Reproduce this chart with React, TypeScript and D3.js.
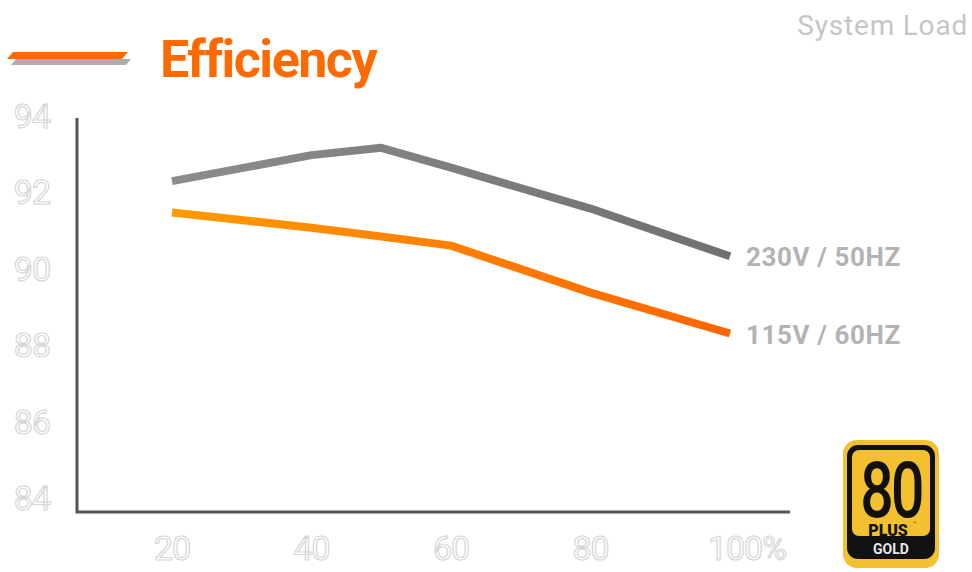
import React from "react";
import * as d3 from "d3";

const loads = [20, 40, 50, 60, 80, 100];
const eff230 = [92.27, 92.95, 93.14, 92.62, 91.55, 90.3];
const eff115 = [91.45, 91.05, 90.82, 90.58, 89.35, 88.28];
const xTicks = [20, 40, 60, 80, 100];
const xTickLabels = ["20", "40", "60", "80", "100%"];
const yTicks = [84, 86, 88, 90, 92, 94];
const seriesNames = ["230V / 50HZ", "115V / 60HZ"];

const W = 972;
const H = 572;

const x = d3.scaleLinear().domain([20, 100]).range([172, 730]);
const y = d3.scaleLinear().domain([84, 94]).range([497, 115]);

const line = d3
  .line<[number, number]>()
  .x((d) => x(d[0]))
  .y((d) => y(d[1]))
  .curve(d3.curveLinear);

const outline = {
  fill: "#ffffff",
  stroke: "#d6d6d6",
  strokeWidth: 1.2,
  fontFamily: "Roboto, sans-serif",
  fontSize: 34,
  letterSpacing: -1,
};

const Badge = () => (
  <g transform="translate(843,440)">
    <rect x={0} y={0} width={96} height={128} rx={14} fill="#f3c030" />
    <rect x={4} y={5} width={88} height={114} rx={11} fill="#111" />
    <rect x={9} y={10} width={78} height={86} rx={7} fill="#f3c030" />
    <text
      x={48}
      y={77}
      textAnchor="middle"
      fontFamily="Roboto, sans-serif"
      fontSize={62}
      fontWeight={500}
      letterSpacing={-3}
      fill="#111"
      transform="translate(48,77) scale(0.95,1.25) translate(-48,-77)"
    >
      80
    </text>
    <text
      x={45}
      y={96}
      textAnchor="middle"
      fontFamily="Roboto, sans-serif"
      fontSize={16}
      fontWeight={900}
      fill="#111"
    >
      PLUS
    </text>
    <text x={70} y={85} fontSize={5} fill="#111" fontFamily="Roboto, sans-serif">
      ™
    </text>
    <text
      x={48}
      y={114}
      textAnchor="middle"
      fontFamily="Roboto, sans-serif"
      fontSize={14}
      fontWeight={700}
      fill="#e8e8e8"
    >
      GOLD
    </text>
  </g>
);

export default function App() {
  const d230 = loads.map((l, i) => [l, eff230[i]] as [number, number]);
  const d115 = loads.map((l, i) => [l, eff115[i]] as [number, number]);

  return (
    <svg
      width={W}
      height={H}
      style={{ position: "absolute", left: 0, top: 0, background: "#fff" }}
    >
      <defs>
        <linearGradient id="gOrange" x1="0" x2="1" y1="0" y2="0">
          <stop offset="0%" stopColor="#ff9a00" />
          <stop offset="100%" stopColor="#ff6400" />
        </linearGradient>
        <linearGradient id="gGray" x1="0" x2="1" y1="0" y2="0">
          <stop offset="0%" stopColor="#8c8c8c" />
          <stop offset="100%" stopColor="#707070" />
        </linearGradient>
      </defs>

      {/* legend swatch + title */}
      <polygon points="11,65 16,59 131,59 126,65" fill="#9a9a9a" opacity={0.8} />
      <polygon points="7,59 13,52 128,52 122,59" fill="#ff6a00" />
      <text
        x={160}
        y={77}
        fill="#ff6a00"
        fontFamily="Roboto, sans-serif"
        fontWeight={700}
        fontSize={52}
        letterSpacing={-1.5}
      >
        Efficiency
      </text>
      <text
        x={968}
        y={35}
        textAnchor="end"
        fill="#c6c6c6"
        fontFamily="Roboto, sans-serif"
        fontSize={28}
        letterSpacing={0.8}
      >
        System Load
      </text>

      {/* axes */}
      <path d="M77,118 V512 H790" fill="none" stroke="#555" strokeWidth={3} />

      {yTicks.map((t) => (
        <text key={t} x={50} y={y(t) + 13} textAnchor="end" {...outline}>
          {t}
        </text>
      ))}
      {xTicks.map((t, i) => (
        <text
          key={t}
          x={x(t)}
          dx={i === xTicks.length - 1 ? 17 : 0}
          y={560}
          textAnchor="middle"
          {...outline}
        >
          {xTickLabels[i]}
        </text>
      ))}

      {/* series */}
      <path
        d={line(d230) || ""}
        fill="none"
        stroke="url(#gGray)"
        strokeWidth={8}
        strokeLinejoin="round"
      />
      <path
        d={line(d115) || ""}
        fill="none"
        stroke="url(#gOrange)"
        strokeWidth={8}
        strokeLinejoin="round"
      />

      {[d230, d115].map((d, i) => (
        <text
          key={i}
          x={x(100) + 16}
          y={y(d[d.length - 1][1]) + 10}
          fill="#b3b3b3"
          fontFamily="Roboto, sans-serif"
          fontWeight={700}
          fontSize={26}
          letterSpacing={0.6}
        >
          {seriesNames[i]}
        </text>
      ))}

      <Badge />
    </svg>
  );
}
